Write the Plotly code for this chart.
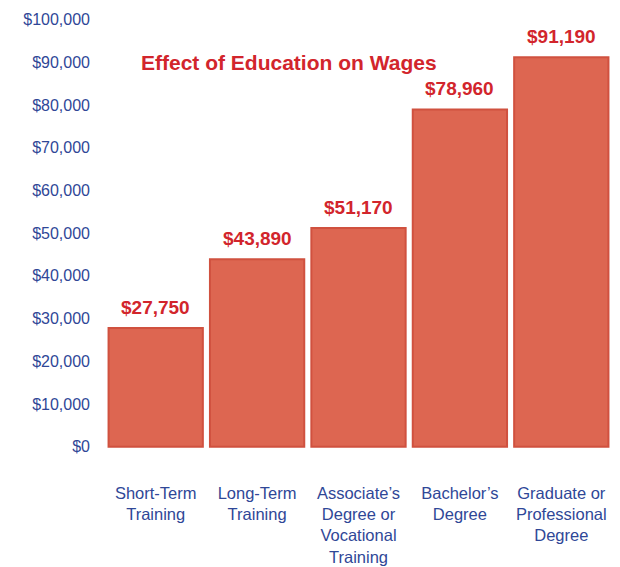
import plotly.graph_objects as go

categories = ["Short-Term<br>Training", "Long-Term<br>Training",
              "Associate’s<br>Degree or<br>Vocational<br>Training",
              "Bachelor’s<br>Degree", "Graduate or<br>Professional<br>Degree"]
wages = [27750, 43890, 51170, 78960, 91190]
value_labels = ["$27,750", "$43,890", "$51,170", "$78,960", "$91,190"]
y_ticks = list(range(0, 100001, 10000))
y_tick_labels = ["${:,}".format(v) for v in y_ticks]
title = "Effect of Education on Wages"

BLUE = "#2f4797"
RED = "#d2252c"
FONT = "Liberation Sans, Arial"

fig = go.Figure(go.Bar(
    x=categories, y=wages,
    marker=dict(color="#dd6651", line=dict(color="#d0513f", width=2)),
    hoverinfo="skip",
))

for c, w, t in zip(categories, wages, value_labels):
    fig.add_annotation(x=c, y=w, text="<b>" + t + "</b>", showarrow=False,
                       yanchor="bottom", yshift=8,
                       font=dict(family=FONT, size=19, color=RED))

fig.add_annotation(text="<b>" + title + "</b>", xref="paper", yref="paper",
                   x=0.068, y=0.888, xanchor="left", yanchor="middle", showarrow=False,
                   font=dict(family=FONT, size=21, color=RED))

fig.update_layout(
    width=620, height=567,
    margin=dict(l=97, r=16, t=3, b=107),
    plot_bgcolor="white", paper_bgcolor="white",
    bargap=0.07, showlegend=False,
    xaxis=dict(showgrid=False, zeroline=False, showline=False, automargin=False,
               tickfont=dict(family=FONT, size=16.5, color=BLUE),
               ticklabelstandoff=13, range=[-0.5, 4.5]),
    yaxis=dict(range=[-5000, 102000], showgrid=False, zeroline=False, showline=False,
               automargin=False,
               tickvals=y_ticks, ticktext=y_tick_labels,
               tickfont=dict(family=FONT, size=16, color=BLUE),
               ticklabelstandoff=14),
)

fig.write_html("out.html")
